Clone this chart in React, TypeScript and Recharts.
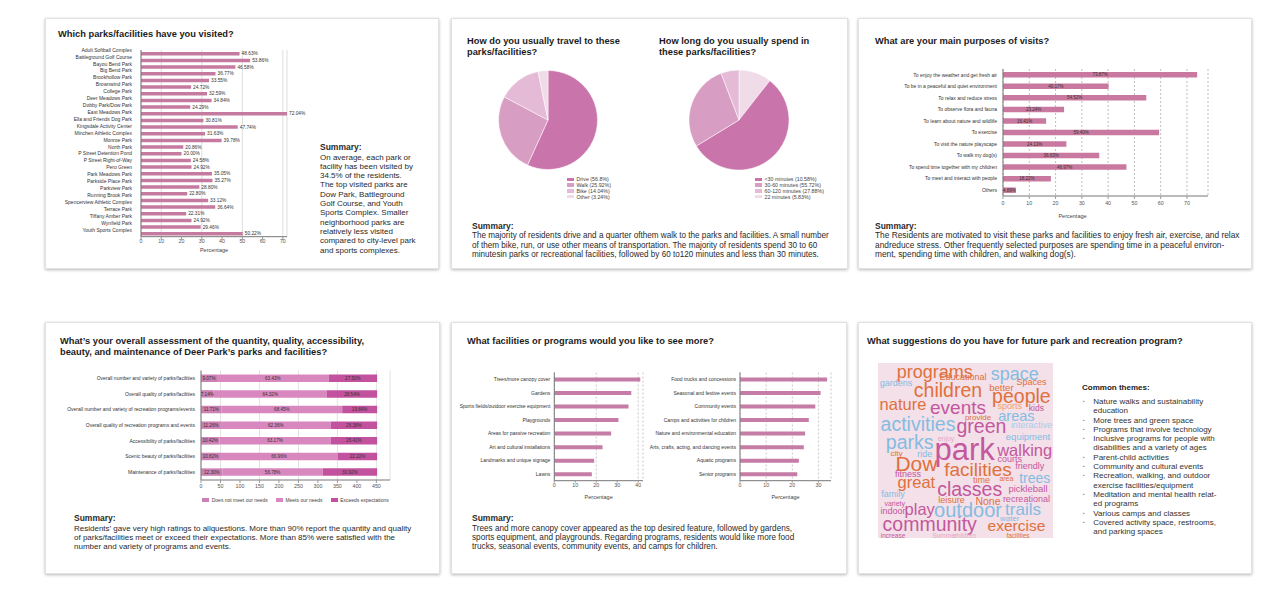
import React from "react";
import {
  BarChart, Bar, XAxis, YAxis, CartesianGrid, LabelList, Legend,
  PieChart, Pie, Cell, ScatterChart, Scatter,
} from "recharts";

const FONT = '"Liberation Sans", Arial, Helvetica, sans-serif';

// ---- Which parks/facilities have you visited? (% of residents)
const parkNames = [
  "Adult Softball Complex", "Battleground Golf Course", "Bayou Bend Park", "Big Bend Park",
  "Brookhollow Park", "Brownwind Park", "College Park", "Deer Meadows Park",
  "Dobby Park/Dow Park", "East Meadows Park", "Ella and Friends Dog Park",
  "Kingsdale Activity Center", "Minchen Athletic Complex", "Monroe Park", "North Park",
  "P Street Detention Pond", "P Street Right-of-Way", "Pero Green", "Park Meadows Park",
  "Parkside Place Park", "Parkview Park", "Running Brook Park", "Spencerview Athletic Complex",
  "Terrace Park", "Tiffany Amber Park", "Wynfield Park", "Youth Sports Complex",
];
const parkVisited = [
  48.63, 53.86, 46.58, 36.77, 33.55, 24.72, 32.59, 34.84, 24.29, 72.04, 30.81, 47.74, 31.63, 39.78,
  20.86, 20.0, 24.58, 24.92, 35.05, 35.27, 28.8, 22.8, 33.12, 36.64, 22.31, 24.92, 29.46, 50.22,
];
const parkTicks = [0, 10, 20, 30, 40, 50, 60, 70];

// ---- travel mode / time spent (pies)
const travelLabels = ["Drive", "Walk", "Bike", "Other"];
const travelShares = [56.8, 25.92, 14.04, 3.24];
const timeLabels = ["<30 minutes", "30-60 minutes", "60-120 minutes", "22 minutes"];
const timeShares = [10.58, 55.72, 27.88, 5.83];

// ---- main purposes of visits (%)
const purposeLabels = [
  "To enjoy the weather and get fresh air", "To be in a peaceful and quiet environment",
  "To relax and reduce stress", "To observe flora and fauna", "To learn about nature and wildlife",
  "To exercise", "To visit the nature playscape", "To walk my dog(s)",
  "To spend time together with my children", "To meet and interact with people", "Others",
];
const purposeValues = [73.87, 40.17, 54.52, 23.24, 16.41, 59.4, 24.13, 36.63, 46.97, 18.22, 4.89];
const purposeTicks = [0, 10, 20, 30, 40, 50, 60, 70];

// ---- overall assessment (% of respondents, stacked by count)
const assessLabels = [
  "Overall number and variety of parks/facilities", "Overall quality of parks/facilities",
  "Overall number and variety of recreation programs/events",
  "Overall quality of recreation programs and events", "Accessibility of parks/facilities",
  "Scenic beauty of parks/facilities", "Maintenance of parks/facilities",
];
const assessNotMeet = [9.07, 7.14, 11.71, 11.26, 10.42, 10.82, 12.3];
const assessMeets = [63.43, 64.32, 68.45, 62.36, 63.17, 66.96, 56.78];
const assessExceeds = [27.5, 28.54, 19.84, 26.38, 26.41, 22.22, 30.92];
const assessRespondents = 452;
const assessSeries = ["Does not meet our needs", "Meets our needs", "Exceeds expectations"];
const assessTicks = [0, 50, 100, 150, 200, 250, 300, 350, 400, 450];

// ---- facilities / programs wanted (%)
const facilityLabels = [
  "Trees/more canopy cover", "Gardens", "Sports fields/outdoor exercise equipment", "Playgrounds",
  "Areas for passive recreation", "Art and cultural installations", "Landmarks and unique signage", "Lawns",
];
const facilityValues = [41.0, 36.7, 35.4, 30.6, 27.1, 23.0, 19.0, 17.9];
const programLabels = [
  "Food trucks and concessions", "Seasonal and festive events", "Community events",
  "Camps and activities for children", "Nature and environmental education",
  "Arts, crafts, acting, and dancing events", "Aquatic programs", "Senior programs",
];
const programValues = [33.3, 30.8, 28.8, 26.3, 24.9, 24.4, 22.5, 21.9];

// ---- word cloud (word, weight, layout position, colour group)
const cloudWords = [
  "park", "community", "classes", "facilities", "activities", "events", "children", "programs",
  "people", "space", "green", "walking", "nature", "parks", "Dow", "great", "outdoor", "play",
  "trails", "exercise", "trees", "areas", "Educational", "better", "Spaces", "sports", "kids",
  "interactive", "equipment", "courts", "friendly", "pickleball", "recreational", "None", "leisure",
  "time", "fitness", "family", "indoor", "water", "increase", "gardens", "provide", "enjoy", "ride",
  "city", "variety", "Summer", "children", "facilities", "area",
];
const cloudWeight = [
  31, 19.5, 19.5, 19, 19.5, 19, 19.5, 18, 19.5, 18, 19.5, 16.5, 16.5, 19.5, 21, 16.5, 20, 16.5,
  17, 15.5, 14, 14.5, 9, 9.5, 9, 9, 8.5, 9, 9.5, 9, 9, 9.5, 9, 10.5, 9, 9, 9, 9, 9, 8, 6.5, 9, 8,
  7, 9, 8, 7, 6.5, 6.5, 6.5, 7,
];
const cloudX = [
  86.7, 51.7, 91.7, 100, 40, 80, 70, 56.7, 143.4, 136.7, 103.4, 146.7, 25, 31.7, 38.4, 38.4, 90,
  41.7, 145, 138.4, 156.7, 138.4, 85, 123.4, 153.4, 131.7, 158.4, 153.4, 150, 131.7, 151.7, 150,
  148.4, 110, 73.4, 103.4, 30, 15, 15, 131.7, 15, 18, 100, 68, 46.7, 18.4, 16.7, 66.7, 86.7,
  140, 128.4,
];
const cloudY = [
  86.7, 160.5, 125.7, 106.7, 61, 44, 26.7, 9, 33.4, 11, 63.4, 86.7, 40.7, 79.4, 100.7, 119.4,
  146.7, 146, 146.7, 162, 115, 52.7, 14.4, 24, 19.4, 43.4, 45, 61.7, 73.4, 96, 103.4, 125.7, 136,
  138.4, 137.4, 117.4, 111, 130.7, 148.4, 155, 172.5, 20, 54, 75, 90.7, 90, 140, 172.5, 172.5,
  172.5, 115.7,
];
const cloudGroup = [
  0, 0, 0, 1, 2, 0, 1, 1, 1, 2, 0, 0, 1, 2, 1, 1, 2, 0, 2, 1, 2, 2, 1, 1, 1, 4, 0, 5, 2, 0, 0, 0,
  0, 1, 1, 1, 0, 2, 0, 2, 0, 2, 1, 3, 2, 1, 0, 3, 3, 1, 1,
];
const cloudPalette = ["#c4579d", "#e0703c", "#84bce2", "#e9a9c4", "#f0a070", "#a9cdea"];

const themes = [
  ["Nature walks and sustainability", "education"],
  ["More trees and green space"],
  ["Programs that involve technology"],
  ["Inclusive programs for people with", "disabilities and a variety of ages"],
  ["Parent-child activities"],
  ["Community and cultural events"],
  ["Recreation, walking, and outdoor", "exercise facilities/equipment"],
  ["Meditation and mental health relat-", "ed programs"],
  ["Various camps and classes"],
  ["Covered activity space, restrooms,", "and parking spaces"],
];

// ---- rows for the library
const parkRows = parkVisited.map((value, row) => ({ row, value }));
const parkStep = (parkNames.length - 1) / (parkVisited.length - 1);
const parkNameTicks = parkNames.map((_, i) => i);
const travelRows = travelLabels.map((name, i) => ({ name, value: travelShares[i] }));
const timeRows = timeLabels.map((name, i) => ({ name, value: timeShares[i] }));
const purposeRows = purposeLabels.map((name, i) => ({ name, value: purposeValues[i] }));
const assessRows = assessLabels.map((name, i) => ({
  name,
  notMeet: (assessNotMeet[i] * assessRespondents) / 100,
  meets: (assessMeets[i] * assessRespondents) / 100,
  exceeds: (assessExceeds[i] * assessRespondents) / 100,
  notMeetPct: assessNotMeet[i],
  meetsPct: assessMeets[i],
  exceedsPct: assessExceeds[i],
}));
const facilityRows = facilityLabels.map((name, i) => ({ name, value: facilityValues[i] }));
const programRows = programLabels.map((name, i) => ({ name, value: programValues[i] }));
const cloudRows = cloudWords.map((word, i) => ({
  word, x: cloudX[i], y: cloudY[i], size: cloudWeight[i], color: cloudPalette[cloudGroup[i]],
}));

const pct = (v: any) => `${Number(v).toFixed(2)}%`;

const PIE_DARK = "#c974ab";
const PIE_MED = "#d89dc3";
const PIE_LIGHT = "#e4bad6";
const PIE_PALE = "#f0dbe9";
const legendPalette = [PIE_DARK, PIE_MED, PIE_LIGHT, PIE_PALE];
const travelSlice = [PIE_DARK, PIE_MED, PIE_LIGHT, PIE_PALE];
const timeSlice = [PIE_PALE, PIE_DARK, PIE_MED, PIE_LIGHT];
const assessColors = ["#cd80b3", "#d987bf", "#c2529e"];

const tickStyle = { fontSize: 5.3, fill: "#555" };
const axisStroke = { stroke: "#777" };

// single-line category tick (no wrapping)
const nameTick = (fmt?: (v: any) => string) => (p: any) => (
  <text x={p.x} y={p.y} dy="0.35em" textAnchor="end" fontSize={5} fill="#333" fontFamily={FONT}>
    {fmt ? fmt(p.payload.value) : p.payload.value}
  </text>
);

function SwatchLegend({ items, vertical }: { items: { label: string; color: string }[]; vertical?: boolean }) {
  return (
    <div
      style={{
        display: "flex",
        flexDirection: vertical ? "column" : "row",
        justifyContent: "center",
        alignItems: vertical ? "flex-start" : "center",
        height: vertical ? undefined : 14,
        gap: vertical ? 0 : 8,
        fontSize: vertical ? 5.3 : 5,
        color: "#444",
        fontFamily: FONT,
      }}
    >
      {items.map((it) => (
        <div key={it.label} style={{ display: "flex", alignItems: "center", height: vertical ? 5.8 : 14, whiteSpace: "nowrap" }}>
          <span style={{ display: "inline-block", width: 7, height: 3.5, background: it.color, marginRight: 2.5 }} />
          {it.label}
        </div>
      ))}
    </div>
  );
}

function Lines({ x, y, lines, size = 8, lh = 9.3, bold = false, color = "#333" }: any) {
  return (
    <div style={{ position: "absolute", left: x, top: y, fontSize: size, lineHeight: `${lh}px`, fontWeight: bold ? 700 : 400, color, whiteSpace: "pre" }}>
      {lines.map((l: string, i: number) => (
        <div key={i}>{l}</div>
      ))}
    </div>
  );
}

function Summary({ x, y, lines, size = 8 }: { x: number; y: number; lines: string[]; size?: number }) {
  return (
    <div style={{ position: "absolute", left: x, top: y, lineHeight: "9.3px", color: "#2a2a2a", whiteSpace: "pre" }}>
      <div style={{ fontSize: 8.5, fontWeight: 700 }}>Summary:</div>
      {lines.map((l, i) => (
        <div key={i} style={{ fontSize: size }}>{l}</div>
      ))}
    </div>
  );
}

function Title({ x, y, lines }: { x: number; y: number; lines: string[] }) {
  return <Lines x={x} y={y} lines={lines} size={9.3} lh={11.4} bold color="#1c1c1c" />;
}

function Card({ x, y, w, h }: { x: number; y: number; w: number; h: number }) {
  return (
    <div style={{ position: "absolute", left: x, top: y, width: w, height: h, background: "#fff", border: "1px solid #e2e2e2", boxShadow: "0 1px 3px rgba(0,0,0,0.28)" }} />
  );
}

function Place({ x, y, children }: { x: number; y: number; children: React.ReactNode }) {
  return <div style={{ position: "absolute", left: x, top: y }}>{children}</div>;
}

const renderWord = (p: any) => (
  <text x={p.cx} y={p.cy} textAnchor="middle" dominantBaseline="central" fontSize={p.payload.size} fill={p.payload.color} fontFamily={FONT}>
    {p.payload.word}
  </text>
);

function HBar({ rows, width, height, yWidth, domain, ticks, color, top, right }: any) {
  return (
    <BarChart width={width} height={height} data={rows} layout="vertical" margin={{ top, right, bottom: 0, left: 0 }}>
      <CartesianGrid horizontal={false} stroke="#c8c8c8" strokeDasharray="2 2" />
      <XAxis type="number" domain={domain} ticks={ticks} tickSize={2} tickMargin={1} tick={tickStyle} axisLine={axisStroke} tickLine={{ stroke: "#999" }} height={height - top - 108.2}
        label={{ value: "Percentage", position: "insideBottom", offset: 6.3, fontSize: 5.5, fill: "#444" }} />
      <YAxis type="category" dataKey="name" width={yWidth} interval={0} tickSize={2} tickMargin={2} tickLine={false} tick={nameTick()} axisLine={axisStroke} />
      <Bar dataKey="value" fill={color} barSize={4} isAnimationActive={false} />
    </BarChart>
  );
}

export default function App() {
  return (
    <div style={{ position: "absolute", left: 0, top: 0, width: 1284, height: 597, background: "#fff", fontFamily: FONT, overflow: "hidden" }}>
      <Card x={45} y={18} w={392} h={249} />
      <Card x={451} y={18} w={395} h={249} />
      <Card x={858} y={18} w={392} h={249} />
      <Card x={45} y={322} w={393} h={250} />
      <Card x={451} y={322} w={394} h={250} />
      <Card x={858} y={322} w={392} h={250} />

      {/* ---------- card 1 ---------- */}
      <Title x={58} y={28.5} lines={["Which parks/facilities have you visited?"]} />
      <Place x={40} y={40}>
        <BarChart width={270} height={222} data={parkRows} layout="vertical" margin={{ top: 10, right: 23, bottom: 0, left: 6 }}>
          <CartesianGrid horizontal={false} stroke="#dedede" yAxisId="bars" />
          <XAxis type="number" domain={[0, "dataMax"]} ticks={parkTicks} tickSize={3} tickMargin={0} tick={tickStyle} axisLine={axisStroke} tickLine={{ stroke: "#999" }} height={25.3}
            label={{ value: "Percentage", position: "insideBottom", offset: 10, fontSize: 5.5, fill: "#444" }} />
          <YAxis yAxisId="names" type="number" domain={[-parkStep / 2, parkNames.length - 1 + parkStep / 2]} allowDataOverflow
            ticks={parkNameTicks} interval={0} width={95} tickSize={6} tickMargin={3} tickLine={false}
            tick={nameTick((i: number) => parkNames[i])} axisLine={axisStroke} />
          <YAxis yAxisId="bars" type="category" dataKey="row" width={0} hide />
          <Bar yAxisId="bars" dataKey="value" fill="#c57aa0" barSize={3.5} isAnimationActive={false}>
            <LabelList dataKey="value" position="right" offset={2} formatter={pct} style={{ fontSize: 4.8, fill: "#333" }} />
          </Bar>
        </BarChart>
      </Place>
      <Summary x={320} y={143.3} lines={[
        "On average, each park or", "facility has been visited by", "34.5% of the residents.",
        "The top visited parks are", "Dow Park, Battleground", "Golf Course, and Youth",
        "Sports Complex. Smaller", "neighborhood parks are", "relatively less visited",
        "compared to city-level park", "and sports complexes.",
      ]} />

      {/* ---------- card 2 ---------- */}
      <Title x={467} y={36} lines={["How do you usually travel to these", "parks/facilities?"]} />
      <Title x={659} y={36} lines={["How long do you usually spend in", "these parks/facilities?"]} />
      <Place x={490} y={65}>
        <PieChart width={150} height={145} margin={{ top: 0, right: 0, bottom: 0, left: 0 }}>
          <Pie data={travelRows} dataKey="value" nameKey="name" cx={58} cy={55} outerRadius={49.5} startAngle={90} endAngle={-270} stroke="#fff" strokeWidth={0.5} isAnimationActive={false}>
            {travelRows.map((r, i) => <Cell key={r.name} fill={travelSlice[i]} />)}
          </Pie>
          <Legend layout="vertical" align="center" verticalAlign="bottom" wrapperStyle={{ left: 77, top: 111.4, width: 70 }}
            content={() => <SwatchLegend vertical items={travelRows.map((r, i) => ({ label: `${r.name} (${r.value}%)`, color: legendPalette[i] }))} />} />
        </PieChart>
      </Place>
      <Place x={681} y={65}>
        <PieChart width={160} height={145} margin={{ top: 0, right: 0, bottom: 0, left: 0 }}>
          <Pie data={timeRows} dataKey="value" nameKey="name" cx={58} cy={55} outerRadius={50} startAngle={90} endAngle={-270} stroke="#fff" strokeWidth={0.5} isAnimationActive={false}>
            {timeRows.map((r, i) => <Cell key={r.name} fill={timeSlice[i]} />)}
          </Pie>
          <Legend layout="vertical" align="center" verticalAlign="bottom" wrapperStyle={{ left: 74, top: 111.4, width: 85 }}
            content={() => <SwatchLegend vertical items={timeRows.map((r, i) => ({ label: `${r.name} (${r.value}%)`, color: legendPalette[i] }))} />} />
        </PieChart>
      </Place>
      <Summary x={472} y={222} size={8.15} lines={[
        "The majority of residents drive and a quarter ofthem walk to the parks and facilities. A small number",
        "of them bike, run, or use other means of transportation. The majority of residents spend 30 to 60",
        "minutesin parks or recreational facilities, followed by 60 to120 minutes and less than 30 minutes.",
      ]} />

      {/* ---------- card 3 ---------- */}
      <Title x={875} y={36} lines={["What are your main purposes of visits?"]} />
      <Place x={870} y={60}>
        <BarChart width={348} height={160} data={purposeRows} layout="vertical" margin={{ top: 9, right: 10, bottom: 0, left: 0 }}>
          <CartesianGrid horizontal={false} stroke="#bdbdbd" strokeDasharray="2 2" />
          <XAxis type="number" domain={[0, 78]} ticks={purposeTicks} tickSize={3} tickMargin={2} tick={tickStyle} axisLine={axisStroke} tickLine={{ stroke: "#999" }} height={24}
            label={{ value: "Percentage", position: "insideBottom", offset: 2, dx: -33, fontSize: 5.5, fill: "#444" }} />
          <YAxis type="category" dataKey="name" width={133} interval={0} tickSize={3} tickMargin={3} tickLine={false} tick={nameTick()} axisLine={axisStroke} />
          <Bar dataKey="value" fill="#c9799f" barSize={5.5} isAnimationActive={false}>
            <LabelList dataKey="value" position="center" formatter={pct} style={{ fontSize: 4.5, fill: "#333" }} />
          </Bar>
        </BarChart>
      </Place>
      <Summary x={875} y={222} size={8.35} lines={[
        "The Residents are motivated to visit these parks and facilities to enjoy fresh air, exercise, and relax",
        "andreduce stress. Other frequently selected purposes are spending time in a peaceful environ-",
        "ment, spending time with children, and walking dog(s).",
      ]} />

      {/* ---------- card 4 ---------- */}
      <Title x={60} y={336} lines={[
        "What\u2019s your overall assessment of the quantity, quality, accessibility,",
        "beauty, and maintenance of Deer Park\u2019s parks and facilities?",
      ]} />
      <Place x={45} y={362}>
        <BarChart width={355} height={145} data={assessRows} layout="vertical" margin={{ top: 8.5, right: 10, bottom: 0, left: 0 }}>
          <CartesianGrid horizontal={false} stroke="#e2e2e2" />
          <XAxis type="number" domain={[0, 485]} ticks={assessTicks} tickSize={3} tickMargin={1} tick={tickStyle} axisLine={axisStroke} tickLine={{ stroke: "#999" }} height={13} />
          <YAxis type="category" dataKey="name" width={156} interval={0} tickSize={3} tickMargin={3} tickLine={false} tick={nameTick()} axisLine={axisStroke} />
          <Bar dataKey="notMeet" name={assessSeries[0]} stackId="a" fill={assessColors[0]} barSize={7.5} isAnimationActive={false}>
            <LabelList dataKey="notMeetPct" position="center" formatter={pct} style={{ fontSize: 4.6, fill: "#333" }} />
          </Bar>
          <Bar dataKey="meets" name={assessSeries[1]} stackId="a" fill={assessColors[1]} barSize={7.5} isAnimationActive={false}>
            <LabelList dataKey="meetsPct" position="center" formatter={pct} style={{ fontSize: 4.6, fill: "#333" }} />
          </Bar>
          <Bar dataKey="exceeds" name={assessSeries[2]} stackId="a" fill={assessColors[2]} barSize={7.5} isAnimationActive={false}>
            <LabelList dataKey="exceedsPct" position="center" formatter={pct} style={{ fontSize: 4.6, fill: "#333" }} />
          </Bar>
          <Legend layout="horizontal" verticalAlign="bottom" height={14} width={189} wrapperStyle={{ left: 156, width: 189 }}
            content={() => <SwatchLegend items={assessSeries.map((s, i) => ({ label: s, color: assessColors[i] }))} />} />
        </BarChart>
      </Place>
      <Summary x={74} y={514.3} lines={[
        "Residents\u2019 gave very high ratings to allquestions. More than 90% report the quantity and quality",
        "of parks/facilities meet or exceed their expectations. More than 85% were satisfied with the",
        "number and variety of programs and events.",
      ]} />

      {/* ---------- card 5 ---------- */}
      <Title x={467} y={336} lines={["What facilities or programs would you like to see more?"]} />
      <Place x={455} y={362}>
        <HBar rows={facilityRows} width={194} height={143} yWidth={99.3} domain={[0, 42.3]} ticks={[0, 10, 20, 30, 40]} color="#c57ca6" top={10.5} right={6} />
      </Place>
      <Place x={640} y={362}>
        <HBar rows={programRows} width={197} height={143} yWidth={100} domain={[0, 34.8]} ticks={[0, 10, 20, 30]} color="#c57ca6" top={10.5} right={6} />
      </Place>
      <Summary x={472} y={514.3} size={8.2} lines={[
        "Trees and more canopy cover appeared as the top desired feature, followed by gardens,",
        "sports equipment, and playgrounds. Regarding programs, residents would like more food",
        "trucks, seasonal events, community events, and camps for children.",
      ]} />

      {/* ---------- card 6 ---------- */}
      <Title x={867} y={336} lines={["What suggestions do you have for future park and recreation program?"]} />
      <div style={{ position: "absolute", left: 878, top: 363, width: 175, height: 175, background: "#f3e0e8" }} />
      <Place x={878} y={363}>
        <ScatterChart width={175} height={175} margin={{ top: 0, right: 0, bottom: 0, left: 0 }}>
          <XAxis type="number" dataKey="x" domain={[0, 175]} hide />
          <YAxis type="number" dataKey="y" domain={[0, 175]} reversed hide />
          <Scatter data={cloudRows} shape={renderWord} isAnimationActive={false} />
        </ScatterChart>
      </Place>
      <Lines x={1082} y={383} lines={["Common themes:"]} size={8} lh={9.3} bold color="#222" />
      <div style={{ position: "absolute", left: 1082, top: 397, fontSize: 8, lineHeight: "9.3px", color: "#333", whiteSpace: "pre" }}>
        {themes.map((item, i) =>
          item.map((line, j) => (
            <div key={`${i}-${j}`} style={{ position: "relative", paddingLeft: 11.3 }}>
              {j === 0 && <span style={{ position: "absolute", left: 1, top: 0, fontSize: 5, color: "#888" }}>{"\u25AA"}</span>}
              {line}
            </div>
          ))
        )}
      </div>
    </div>
  );
}
